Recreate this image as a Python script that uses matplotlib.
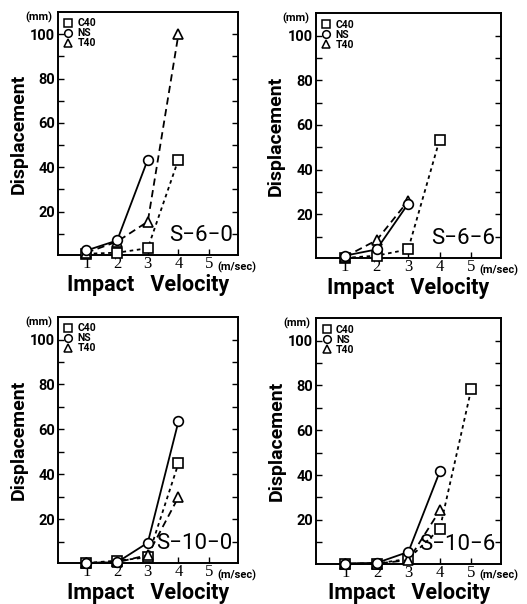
import matplotlib
matplotlib.use("Agg")
import matplotlib.pyplot as plt
from matplotlib.lines import Line2D

plt.rcParams['font.family'] = ['Roboto', 'DejaVu Sans']

# panel names
panels = ['S−6−0', 'S−6−6', 'S−10−0', 'S−10−6']

# impact velocity (m/sec) and displacement (mm) per series, per panel
c40_x = [[1, 2, 3, 4], [1, 2, 3, 4], [1, 2, 3, 4], [1, 2, 3, 4, 5]]
c40_y = [[1, 1.5, 3.5, 43.5], [0.5, 1.5, 4.3, 53.5], [0.5, 1.5, 3, 44.8], [0.5, 0.5, 2.6, 16, 78.5]]
ns_x = [[1, 2, 3], [1, 2, 3], [1, 2, 3, 4], [1, 2, 3, 4]]
ns_y = [[2.5, 7, 43.5], [1.5, 4.3, 24.7], [0.5, 0.8, 9.5, 63.5], [0.5, 0.8, 5.7, 41.6]]
t40_x = [[1, 2, 3, 4], [1, 2, 3], [1, 2, 3, 4], [1, 2, 3, 4]]
t40_y = [[1.5, 6.5, 15.5, 100], [1, 8.4, 26], [0.5, 0.8, 4, 29.8], [0.5, 0.5, 2, 24.2]]

xticks = [1, 2, 3, 4, 5]
yticks_major = [20, 40, 60, 80, 100]
yticks_minor = [10, 30, 50, 70, 90]

fig = plt.figure(figsize=(5.27, 6.04), dpi=100)
rects = [
    [0.110, 0.578, 0.342, 0.402],
    [0.599, 0.573, 0.352, 0.405],
    [0.110, 0.068, 0.342, 0.407],
    [0.600, 0.067, 0.351, 0.406],
]

mk = dict(markersize=7, markerfacecolor='white', markeredgecolor='black',
          markeredgewidth=1.2, color='black', linewidth=1.3, clip_on=False)

for i, name in enumerate(panels):
    ax = fig.add_axes(rects[i])
    ax.plot(c40_x[i], c40_y[i], marker='s', linestyle=(0, (2, 2)), zorder=3, **mk)
    ax.plot(t40_x[i], t40_y[i], marker='^', linestyle=(0, (4, 2.5)), zorder=3, **mk)
    ax.plot(ns_x[i], ns_y[i], marker='o', linestyle='-', zorder=4, **mk)

    ax.set_xlim(0.07, 5.95)
    ax.set_ylim(0.5, 110)
    ax.set_xticks(xticks)
    ax.set_xticklabels([str(v) for v in xticks], family='Liberation Serif', fontsize=12)
    ax.set_yticks(yticks_major)
    ax.set_yticks(yticks_minor, minor=True)
    ax.set_yticklabels([str(v) for v in yticks_major], fontsize=10.5, fontweight='bold')
    ax.tick_params(axis='both', which='both', direction='in', right=True, length=4, width=1, pad=2)
    ax.tick_params(axis='x', pad=1)
    for s in ax.spines.values():
        s.set_linewidth(1.4)

    ax.set_xlabel('Impact   Velocity', fontsize=15.5, fontweight='bold', labelpad=1)
    ax.set_ylabel('Displacement', fontsize=14, fontweight='bold', labelpad=2)

    ax.text(-0.033, 0.98, '(mm)', transform=ax.transAxes, ha='right', va='center',
            fontsize=8, fontweight='bold')
    ax.text(5.26, -0.05, '(m/sec)', transform=ax.get_xaxis_transform(), ha='left', va='center',
            fontsize=8, fontweight='bold')
    ax.text(0.97, 0.035, name, transform=ax.transAxes, ha='right', va='bottom', fontsize=16)

    handles = [
        Line2D([], [], marker='s', linestyle='none', markersize=5.5, markerfacecolor='white',
               markeredgecolor='black', markeredgewidth=1.1),
        Line2D([], [], marker='o', linestyle='none', markersize=5.5, markerfacecolor='white',
               markeredgecolor='black', markeredgewidth=1.1),
        Line2D([], [], marker='^', linestyle='none', markersize=5.5, markerfacecolor='white',
               markeredgecolor='black', markeredgewidth=1.1),
    ]
    ax.legend(handles, ['C40', 'NS', 'T40'], loc='upper left', frameon=False,
              prop={'weight': 'bold', 'size': 7.5}, labelspacing=0, handlelength=0.8,
              handletextpad=0.5, borderaxespad=0.4, borderpad=0.2)

fig.savefig('out.png', dpi=100)
